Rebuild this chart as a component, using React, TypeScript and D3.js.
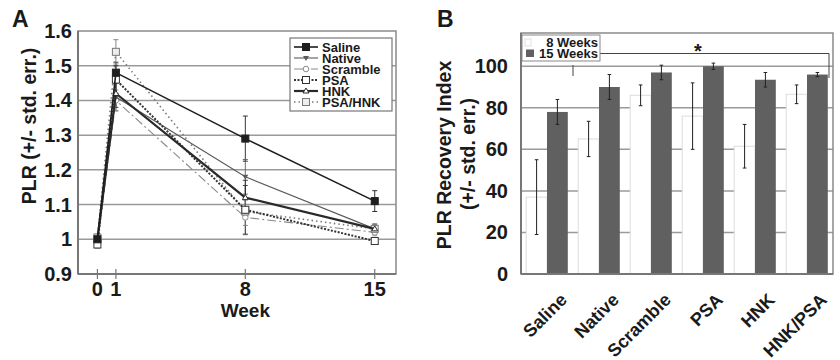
import React, { useEffect, useRef } from "react";
import * as d3 from "d3";

// panel A data: PLR by week
const weeks = [0, 1, 8, 15];
const seriesNames = ["Saline", "Native", "Scramble", "PSA", "HNK", "PSA/HNK"];
const salineVals = [1.0, 1.48, 1.29, 1.11];
const salineErr = [0.01, 0.03, 0.065, 0.03];
const nativeVals = [1.0, 1.41, 1.18, 1.03];
const nativeErr = [0.01, 0.04, 0.05, 0.012];
const scrambleVals = [0.99, 1.4, 1.063, 1.02];
const scrambleErr = [0.01, 0.03, 0.05, 0.01];
const psaVals = [0.985, 1.46, 1.085, 0.995];
const psaErr = [0.01, 0.04, 0.07, 0.008];
const hnkVals = [1.0, 1.42, 1.12, 1.03];
const hnkErr = [0.01, 0.04, 0.05, 0.01];
const psaHnkVals = [1.005, 1.54, 1.08, 1.03];
const psaHnkErr = [0.01, 0.035, 0.04, 0.015];
const aTicks = [0.9, 1, 1.1, 1.2, 1.3, 1.4, 1.5, 1.6];

// panel B data: recovery index
const groups = ["Saline", "Native", "Scramble", "PSA", "HNK", "HNK/PSA"];
const week8 = [37, 65, 86, 76, 61.5, 86.5];
const week8Err = [18, 8.5, 5, 16, 10.5, 4.5];
const week15 = [78, 90, 97, 100, 93.5, 96];
const week15Err = [6, 6, 3.5, 1.5, 3.5, 1];
const bTicks = [0, 20, 40, 60, 80, 100];

const FONT = "'Liberation Sans', Arial, sans-serif";

const styles = [
  { color: "#1e1e1e", width: 1.6, dash: null, marker: "sq", fill: "#1e1e1e" },
  { color: "#5a5a5a", width: 1.1, dash: null, marker: "tri", fill: "#5a5a5a" },
  { color: "#8a8a8a", width: 1.1, dash: "9,3,2,3", marker: "circ", fill: "#fff" },
  { color: "#333", width: 2, dash: "2,1.5", marker: "sq", fill: "#fff" },
  { color: "#2a2a2a", width: 2.2, dash: null, marker: "tri2", fill: "#fff" },
  { color: "#7a7a7a", width: 1.6, dash: "1.5,3", marker: "sq", fill: "#eee" },
];

function drawMarker(g, kind, x, y, st) {
  if (kind === "sq") {
    g.append("rect").attr("x", x - 3.5).attr("y", y - 3.5).attr("width", 7).attr("height", 7)
      .attr("fill", st.fill).attr("stroke", st.color).attr("stroke-width", 1);
  } else if (kind === "tri") {
    g.append("path").attr("d", `M${x - 3},${y - 2}L${x + 3},${y - 2}L${x},${y + 3}Z`).attr("fill", st.fill);
  } else if (kind === "circ") {
    g.append("circle").attr("cx", x).attr("cy", y).attr("r", 2.8).attr("fill", "#fff").attr("stroke", st.color);
  } else {
    g.append("path").attr("d", `M${x - 3},${y + 2}L${x + 3},${y + 2}L${x},${y - 3}Z`)
      .attr("fill", "#fff").attr("stroke", st.color);
  }
}

export default function App() {
  const ref = useRef(null);

  useEffect(() => {
    const svg = d3.select(ref.current);
    svg.selectAll("*").remove();
    const bold = (s) => s.style("font-family", FONT).style("font-weight", "bold").attr("fill", "#1a1a1a");

    // ---------- Panel A ----------
    const a = { left: 78, right: 396, top: 31, bottom: 274 };
    const x = d3.scaleLinear().domain([-1.05, 16.15]).range([a.left, a.right]);
    const y = d3.scaleLinear().domain([0.9, 1.6]).range([a.bottom, a.top]);
    const gA = svg.append("g");

    gA.selectAll(".grid").data(aTicks.filter((t) => t > 0.9 && t < 1.6)).join("line")
      .attr("x1", a.left).attr("x2", a.right).attr("y1", (d) => y(d)).attr("y2", (d) => y(d))
      .attr("stroke", "#9a9a9a").attr("stroke-width", 1.5);
    gA.append("rect").attr("x", a.left).attr("y", a.top).attr("width", a.right - a.left)
      .attr("height", a.bottom - a.top).attr("fill", "none").attr("stroke", "#8a8a8a").attr("stroke-width", 1.5);
    gA.append("line").attr("x1", a.left).attr("x2", a.right).attr("y1", a.bottom).attr("y2", a.bottom)
      .attr("stroke", "#777").attr("stroke-width", 2);
    gA.append("line").attr("x1", a.left).attr("x2", a.left).attr("y1", a.top).attr("y2", a.bottom)
      .attr("stroke", "#777").attr("stroke-width", 2);

    gA.selectAll(".ytl").data(aTicks).join("text")
      .attr("x", a.left - 6).attr("y", (d) => y(d) + 7).attr("text-anchor", "end")
      .style("font-size", "20px").text((d) => (d === 1 ? "1" : d3.format(".1f")(d))).call(bold);
    gA.selectAll(".xt").data(weeks).join("line")
      .attr("x1", (d) => x(d)).attr("x2", (d) => x(d)).attr("y1", a.bottom - 5).attr("y2", a.bottom + 5)
      .attr("stroke", "#777").attr("stroke-width", 1.2);
    gA.selectAll(".xtl").data(weeks).join("text")
      .attr("x", (d) => x(d)).attr("y", 296).attr("text-anchor", "middle")
      .style("font-size", "20px").text((d) => d).call(bold);
    gA.append("text").attr("x", x(8)).attr("y", 317).attr("text-anchor", "middle")
      .style("font-size", "19px").text("Week").call(bold);
    gA.append("text").attr("transform", `translate(36,126) rotate(-90)`)
      .attr("text-anchor", "middle").style("font-size", "19.5px").text("PLR (+/- std. err.)").call(bold);
    gA.append("text").attr("x", 12).attr("y", 27).style("font-size", "23px").text("A").call(bold);

    const vals = [salineVals, nativeVals, scrambleVals, psaVals, hnkVals, psaHnkVals];
    const errs = [salineErr, nativeErr, scrambleErr, psaErr, hnkErr, psaHnkErr];
    const line = d3.line().x((d) => x(d[0])).y((d) => y(d[1]));

    // error bars
    vals.forEach((v, i) => {
      weeks.forEach((w, j) => {
        const lo = y(v[j] - errs[i][j]), hi = y(v[j] + errs[i][j]);
        gA.append("line").attr("x1", x(w)).attr("x2", x(w)).attr("y1", lo).attr("y2", hi)
          .attr("stroke", styles[i].color).attr("stroke-width", 0.9);
        [lo, hi].forEach((yy) => gA.append("line").attr("x1", x(w) - 2.5).attr("x2", x(w) + 2.5)
          .attr("y1", yy).attr("y2", yy).attr("stroke", styles[i].color).attr("stroke-width", 0.9));
      });
    });
    // lines, drawn back to front
    [2, 1, 5, 3, 4, 0].forEach((i) => {
      const st = styles[i];
      gA.append("path").datum(weeks.map((w, j) => [w, vals[i][j]])).attr("d", line)
        .attr("fill", "none").attr("stroke", st.color).attr("stroke-width", st.width)
        .attr("stroke-dasharray", st.dash);
      weeks.forEach((w, j) => drawMarker(gA, st.marker, x(w), y(vals[i][j]), st));
    });

    // legend A
    const lg = gA.append("g");
    lg.append("rect").attr("x", 290).attr("y", 38).attr("width", 102).attr("height", 73)
      .attr("fill", "#fff").attr("stroke", "#777").attr("stroke-width", 1.2);
    seriesNames.forEach((n, i) => {
      const yy = 47 + i * 11;
      const st = styles[i];
      lg.append("line").attr("x1", 294).attr("x2", 318).attr("y1", yy).attr("y2", yy)
        .attr("stroke", st.color).attr("stroke-width", st.width).attr("stroke-dasharray", st.dash);
      drawMarker(lg, st.marker, 306, yy, st);
      lg.append("text").attr("x", 322).attr("y", yy + 4.5).style("font-size", "13px").text(n).call(bold);
    });

    // ---------- Panel B ----------
    const b = { left: 521, right: 833, top: 33, bottom: 274 };
    const xb = d3.scaleBand().domain(groups).range([b.left, b.right]).paddingInner(0.2).paddingOuter(0.1);
    const x2 = d3.scaleBand().domain(["8", "15"]).range([0, xb.bandwidth()]);
    const yb = d3.scaleLinear().domain([0, 116]).range([b.bottom, b.top]);
    const gB = svg.append("g");

    gB.selectAll(".grid").data(bTicks.filter((t) => t > 0)).join("line")
      .attr("x1", b.left).attr("x2", b.right).attr("y1", (d) => yb(d)).attr("y2", (d) => yb(d))
      .attr("stroke", "#9a9a9a").attr("stroke-width", 1.5);
    gB.append("rect").attr("x", b.left).attr("y", b.top).attr("width", b.right - b.left)
      .attr("height", b.bottom - b.top).attr("fill", "none").attr("stroke", "#8a8a8a").attr("stroke-width", 1.5);

    gB.selectAll(".b8").data(groups).join("rect")
      .attr("x", (d) => xb(d) + x2("8")).attr("y", (d, i) => yb(week8[i]))
      .attr("width", x2.bandwidth()).attr("height", (d, i) => yb(0) - yb(week8[i]))
      .attr("fill", "#fff").attr("stroke", "#dcdcdc").attr("stroke-width", 1);
    gB.selectAll(".b15").data(groups).join("rect")
      .attr("x", (d) => xb(d) + x2("15")).attr("y", (d, i) => yb(week15[i]))
      .attr("width", x2.bandwidth()).attr("height", (d, i) => yb(0) - yb(week15[i]))
      .attr("fill", "#606060");

    const errBar = (cx, v, e) => {
      const lo = yb(v - e), hi = yb(v + e);
      gB.append("line").attr("x1", cx).attr("x2", cx).attr("y1", lo).attr("y2", hi)
        .attr("stroke", "#222").attr("stroke-width", 1);
      [lo, hi].forEach((yy) => gB.append("line").attr("x1", cx - 1.8).attr("x2", cx + 1.8)
        .attr("y1", yy).attr("y2", yy).attr("stroke", "#222").attr("stroke-width", 1));
    };
    groups.forEach((g, i) => {
      errBar(xb(g) + x2("8") + x2.bandwidth() / 2, week8[i], week8Err[i]);
      errBar(xb(g) + x2("15") + x2.bandwidth() / 2, week15[i], week15Err[i]);
    });

    gB.append("line").attr("x1", b.left).attr("x2", b.right).attr("y1", b.bottom).attr("y2", b.bottom)
      .attr("stroke", "#777").attr("stroke-width", 2);
    gB.append("line").attr("x1", b.left).attr("x2", b.left).attr("y1", b.top).attr("y2", b.bottom)
      .attr("stroke", "#777").attr("stroke-width", 2);

    gB.selectAll(".ytl").data(bTicks).join("text")
      .attr("x", 508).attr("y", (d) => yb(d) + 7).attr("text-anchor", "end")
      .style("font-size", "20px").text((d) => d).call(bold);
    gB.selectAll(".xtl").data(groups).join("text")
      .attr("transform", (d) => `translate(${xb(d) + xb.bandwidth() / 2 + 21},301) rotate(-45)`)
      .attr("text-anchor", "end").style("font-size", "18px").text((d) => d).call(bold);
    gB.append("text").attr("transform", `translate(451,155) rotate(-90)`)
      .attr("text-anchor", "middle").style("font-size", "19.5px").text("PLR Recovery Index").call(bold);
    gB.append("text").attr("transform", `translate(475,154) rotate(-90)`)
      .attr("text-anchor", "middle").style("font-size", "19.5px").text("(+/- std. err.)").call(bold);
    gB.append("text").attr("x", 437).attr("y", 27).style("font-size", "23px").text("B").call(bold);

    // significance bracket
    gB.append("path").attr("d", "M600,53.5H829V78").attr("fill", "none").attr("stroke", "#444").attr("stroke-width", 1);
    gB.append("line").attr("x1", 573).attr("x2", 573).attr("y1", 65).attr("y2", 76)
      .attr("stroke", "#444").attr("stroke-width", 1);
    gB.append("text").attr("x", 698).attr("y", 58).attr("text-anchor", "middle")
      .style("font-size", "20px").text("*").call(bold);

    // legend B
    gB.append("rect").attr("x", 522).attr("y", 35).attr("width", 78).attr("height", 26)
      .attr("fill", "#fff").attr("stroke", "#888").attr("stroke-width", 1);
    gB.append("rect").attr("x", 525).attr("y", 39).attr("width", 6).attr("height", 7)
      .attr("fill", "#fff").attr("stroke", "#e0e0e0");
    gB.append("rect").attr("x", 526).attr("y", 49.5).attr("width", 8).attr("height", 7.5).attr("fill", "#606060");
    gB.append("text").attr("x", 598).attr("y", 46.5).attr("text-anchor", "end")
      .style("font-size", "13px").text("8 Weeks").call(bold);
    gB.append("text").attr("x", 598).attr("y", 58).attr("text-anchor", "end")
      .style("font-size", "13px").text("15 Weeks").call(bold);
  }, []);

  return (
    <div style={{ position: "absolute", left: 0, top: 0 }}>
      <svg ref={ref} width={840} height={360} style={{ display: "block", background: "#fff" }} />
    </div>
  );
}
